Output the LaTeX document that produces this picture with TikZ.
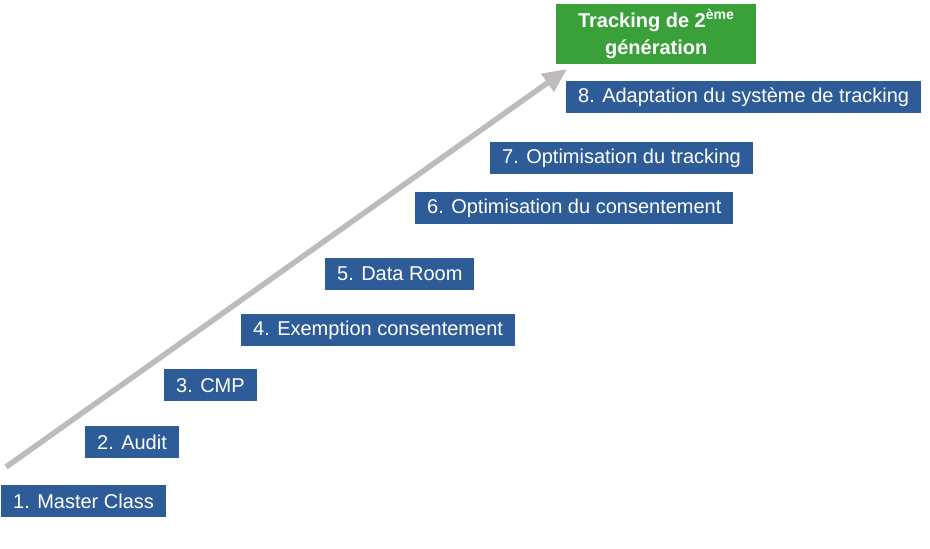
\documentclass[tikz,border=0pt]{standalone}
\usepackage{fontspec}
\setmainfont{Liberation Sans}
\usetikzlibrary{arrows.meta}
\definecolor{stepblue}{RGB}{46,92,152}
\definecolor{goalgreen}{RGB}{58,160,58}
\definecolor{arrowgray}{RGB}{190,186,190}

\begin{document}
\begin{tikzpicture}[x=1pt,y=-1pt,font=\fontsize{20}{24}\selectfont,
    % styles
    step box/.style={fill=stepblue,text=white,anchor=north west,inner xsep=12pt,inner ysep=0pt,minimum height=32pt},
    goal box/.style={fill=goalgreen,text=white,anchor=north west,align=center,font=\fontsize{20}{27}\selectfont\bfseries,minimum width=200pt,minimum height=60pt,inner sep=0pt},
    progress/.style={arrowgray,line width=5.5pt,-{Triangle[length=24pt,width=21pt]}}]

  \useasboundingbox (0,0) rectangle (930,549);

  % arrow
  \coordinate (start) at (6,467);
  \coordinate (tip) at (567,69);
  \draw [progress] (start) -- (tip);

  % steps
  \foreach \n/\x/\y/\txt in {1/1/485/{1. Master Class},
                             2/85/426/{2. Audit},
                             3/164/369/{3. CMP},
                             4/241/314/{4. Exemption consentement},
                             5/325/258/{5. Data Room},
                             6/415/192/{6. Optimisation du consentement},
                             7/490/142/{7. Optimisation du tracking},
                             8/566/81/{8. Adaptation du système de tracking}}
    \node [step box] (step\n) at (\x,\y) {\txt};

  % goal
  \node [goal box] (goal) at (556,4) {Tracking de 2\textsuperscript{ème}\\génération};
\end{tikzpicture}
\end{document}
